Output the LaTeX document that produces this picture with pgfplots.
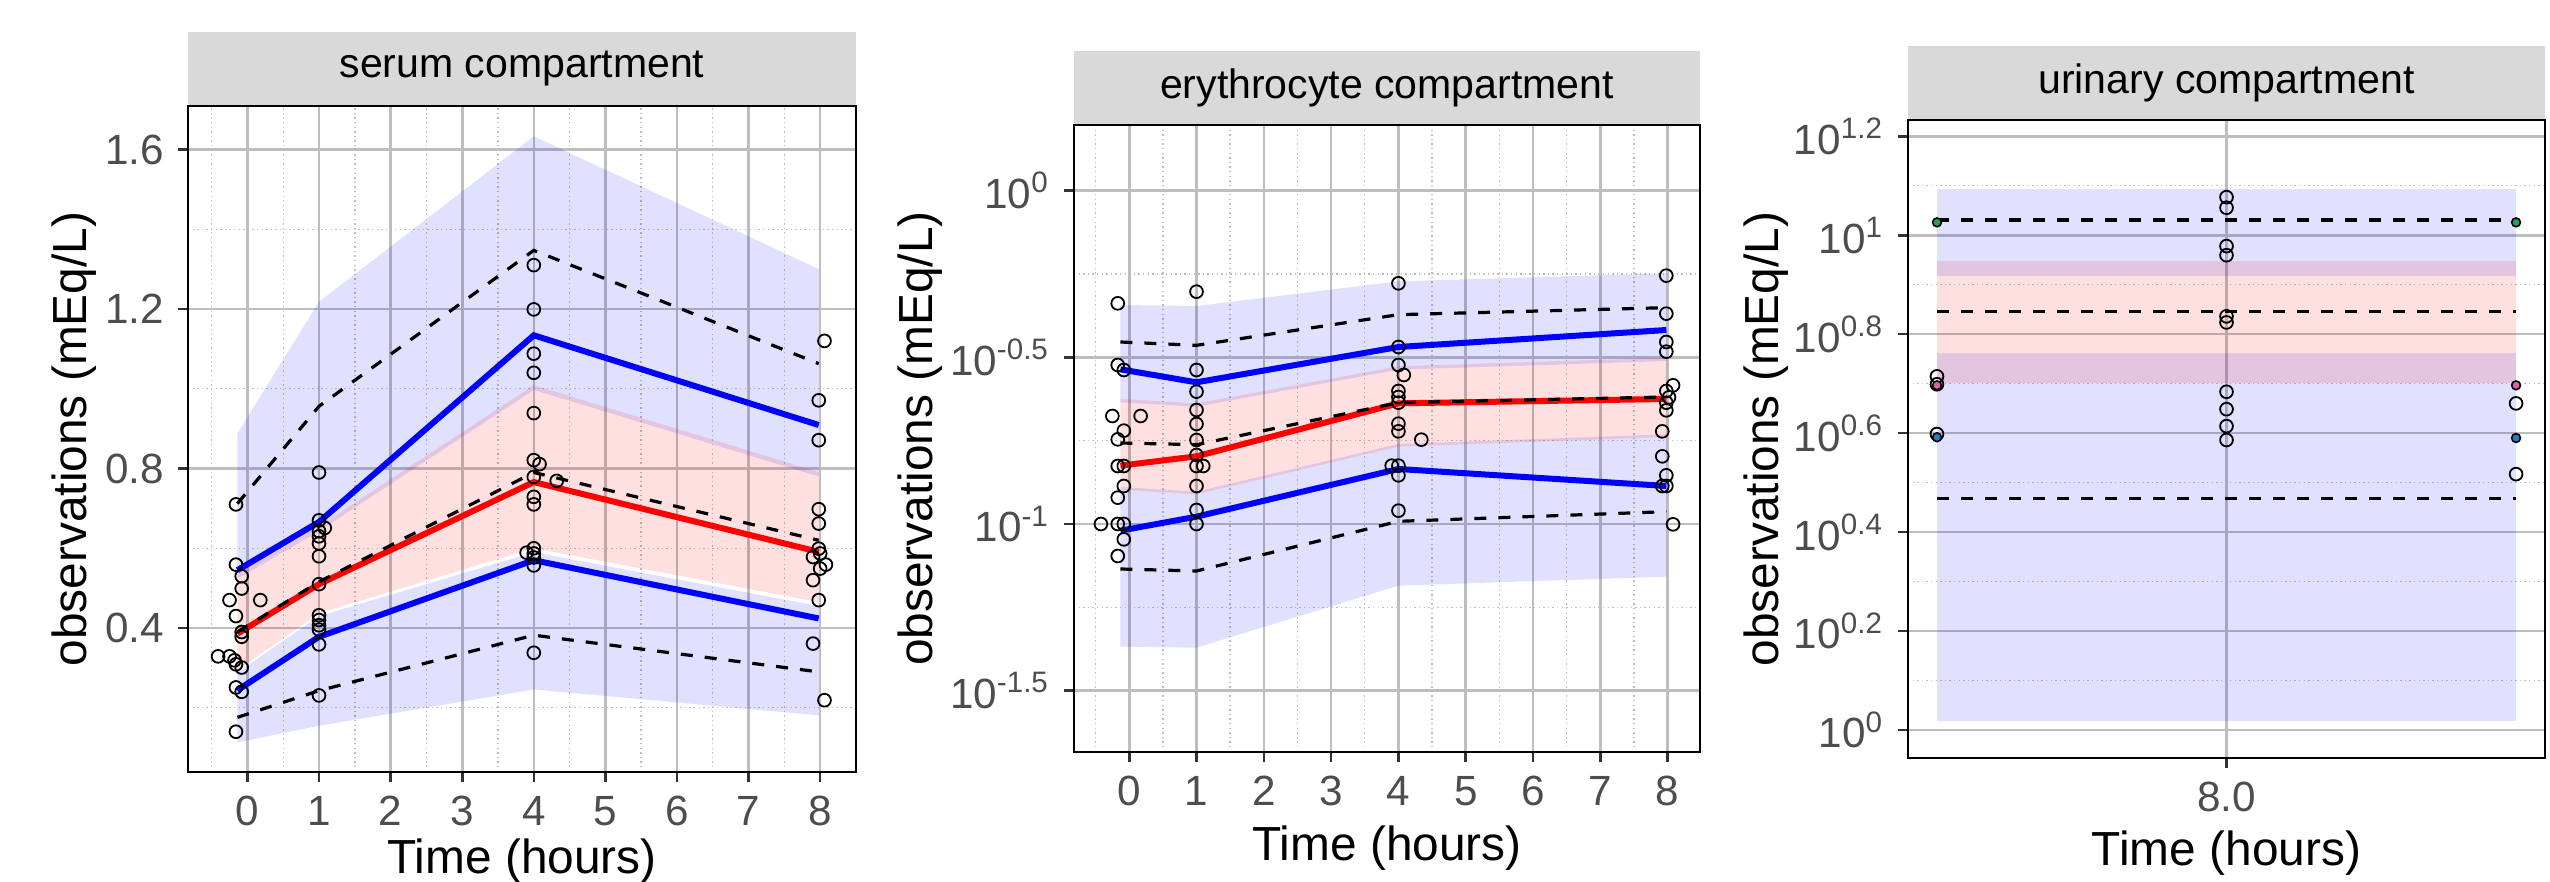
\documentclass[border=0pt]{standalone}
\usepackage{pgfplots}
\pgfplotsset{compat=1.18}
\usepackage{fontspec}
\setmainfont{Liberation Sans}
\definecolor{gridmaj}{RGB}{190,190,190}
\definecolor{stripgray}{RGB}{217,217,217}
\definecolor{ticktext}{RGB}{77,77,77}
\definecolor{tickmark}{RGB}{51,51,51}
\definecolor{ptgreen}{RGB}{35,160,95}
\definecolor{ptpink}{RGB}{225,95,175}
\definecolor{ptblue}{RGB}{40,125,190}
\pgfplotsset{
  vpc/.style={
    scale only axis,
    axis line style={line width=0.55bp, black},
    tick align=outside,
    xtick pos=bottom, ytick pos=left,
    major tick length=2.5bp,
    minor tick length=0pt,
    tick style={tickmark, line width=0.65bp},
    grid=both,
    major grid style={gridmaj, line width=0.65bp},
    minor grid style={gridmaj, line width=0.35bp, dash pattern=on 0.35bp off 0.8bp},
    tick label style={font=\fontsize{10.6}{12}\selectfont, text=ticktext},
    label style={font=\fontsize{12}{14}\selectfont, text=black},
    every axis title/.style={at={(0.5,1)}, anchor=south, fill=stripgray, inner sep=0pt, font=\fontsize{10.3}{12}\selectfont, minimum height=18.4bp},
    /pgf/number format/assume math mode=true,
    ylabel style={anchor=center},
    xlabel style={anchor=base},
  },
  ciband/.style={draw=none, fill=blue, fill opacity=0.12, forget plot},
  medband/.style={draw=none, fill=red, fill opacity=0.12, forget plot},
  bline/.style={blue, line width=1.5bp, forget plot},
  rline/.style={red, line width=1.5bp, forget plot},
  dline/.style={black, line width=0.8bp, dash pattern=on 3bp off 3bp, forget plot},
  obs/.style={only marks, mark=o, mark size=1.6bp, mark options={black, line width=0.45bp, fill=none}, forget plot},
  colpt/.style={only marks, mark=*, mark size=1.1bp, mark options={draw=none, fill=#1}, forget plot},
}
\begin{document}
\begin{tikzpicture}
\useasboundingbox (0,0) rectangle (637.5bp,220.5bp);

% ---------------- serum ----------------
\begin{axis}[vpc, at={(47bp,27.5bp)}, anchor=south west, width=167bp, height=166.5bp,
  xmin=-0.83, xmax=8.5, ymin=0.039, ymax=1.709,
  xtick={0,1,2,3,4,5,6,7,8}, minor xtick={-0.5,0.5,1.5,2.5,3.5,4.5,5.5,6.5,7.5,8.5},
  ytick={0.4,0.8,1.2,1.6}, minor ytick={0.2,0.6,1.0,1.4},
  yticklabel style={/pgf/number format/fixed, /pgf/number format/precision=1},
  title={serum compartment}, title style={minimum width=167bp},
  xlabel={Time (hours)}, ylabel={observations (mEq/L)},
  xlabel style={at={(axis description cs:0.5,-0.152)}},
  ylabel style={at={(axis description cs:-0.171,0.5)}},
]
\addplot[ciband] coordinates {(-0.14,0.888) (1,1.218) (4,1.633) (7.98,1.30) (7.98,0.78) (4,0.997) (1,0.643) (-0.14,0.523)};
\addplot[ciband] coordinates {(-0.14,0.288) (1,0.430) (4,0.590) (7.98,0.455) (7.98,0.181) (4,0.246) (1,0.155) (-0.14,0.113)};
\addplot[medband] coordinates {(-0.14,0.535) (1,0.655) (4,1.009) (7.98,0.791) (7.98,0.465) (4,0.600) (1,0.437) (-0.14,0.294)};
\addplot[bline] coordinates {(-0.14,0.545) (1,0.666) (4,1.134) (7.98,0.909)};
\addplot[rline] coordinates {(-0.14,0.386) (1,0.510) (4,0.766) (7.98,0.591)};
\addplot[bline] coordinates {(-0.14,0.244) (1,0.378) (4,0.570) (7.98,0.424)};
\addplot[dline] coordinates {(-0.14,0.712) (1,0.956) (4,1.347) (7.98,1.063)};
\addplot[dline] coordinates {(-0.14,0.390) (1,0.516) (4,0.790) (7.98,0.620)};
\addplot[dline] coordinates {(-0.14,0.176) (1,0.243) (4,0.382) (7.98,0.290)};
\addplot[obs] coordinates {
(-0.16,0.710) (-0.16,0.559) (-0.08,0.530) (-0.08,0.499) (-0.25,0.470) (0.18,0.470) (-0.16,0.430) (-0.08,0.390) (-0.08,0.378) (-0.41,0.329) (-0.25,0.329) (-0.18,0.319) (-0.16,0.309) (-0.08,0.301) (-0.16,0.251) (-0.08,0.240) (-0.16,0.140)
(1,0.790) (1,0.670) (1.08,0.651) (1,0.643) (1,0.630) (1,0.612) (1,0.580) (1,0.510) (1,0.432) (1,0.420) (1,0.407) (1,0.396) (1,0.359) (1,0.231)
(4,1.310) (4,1.199) (4,1.088) (4,1.040) (4,0.939) (4,0.821) (4.08,0.811) (4,0.779) (4.32,0.769) (4,0.729) (4,0.710) (4,0.600) (3.9,0.589) (4,0.587) (4,0.577) (4,0.557) (4,0.338)
(8.06,1.120) (7.98,0.971) (7.98,0.871) (7.98,0.698) (7.98,0.662) (7.98,0.599) (7.9,0.578) (8.0,0.587) (8.08,0.559) (8.0,0.549) (7.9,0.520) (7.98,0.470) (7.9,0.361) (8.06,0.219)
};
\end{axis}

% ---------------- erythrocyte ----------------
\begin{axis}[vpc, at={(268.5bp,32.5bp)}, anchor=south west, width=156.5bp, height=156.75bp,
  xmin=-0.82, xmax=8.48, ymin=-1.684, ymax=0.197,
  xtick={0,1,2,3,4,5,6,7,8}, minor xtick={-0.5,0.5,1.5,2.5,3.5,4.5,5.5,6.5,7.5,8.5},
  ytick={-1.5,-1,-0.5,0},
  yticklabels={10\textsuperscript{-1.5},10\textsuperscript{-1},10\textsuperscript{-0.5},10\textsuperscript{0}},
  minor ytick={-1.25,-0.75,-0.25},
  title={erythrocyte compartment}, title style={minimum width=156.5bp},
  xlabel={Time (hours)}, ylabel={observations (mEq/L)},
  xlabel style={at={(axis description cs:0.5,-0.173)}},
  ylabel style={at={(axis description cs:-0.246,0.5)}},
]
\addplot[ciband] coordinates {(-0.13,-0.343) (1,-0.346) (4,-0.272) (7.98,-0.248) (7.98,-0.511) (4,-0.537) (1,-0.648) (-0.13,-0.635)};
\addplot[ciband] coordinates {(-0.13,-0.889) (1,-0.903) (4,-0.760) (7.98,-0.731) (7.98,-1.158) (4,-1.185) (1,-1.371) (-0.13,-1.368)};
\addplot[medband] coordinates {(-0.13,-0.625) (1,-0.638) (4,-0.527) (7.98,-0.501) (7.98,-0.739) (4,-0.768) (1,-0.911) (-0.13,-0.897)};
\addplot[bline] coordinates {(-0.13,-0.536) (1,-0.575) (4,-0.469) (7.98,-0.418)};
\addplot[rline] coordinates {(-0.13,-0.825) (1,-0.797) (4,-0.638) (7.98,-0.625)};
\addplot[bline] coordinates {(-0.13,-1.020) (1,-0.978) (4,-0.835) (7.98,-0.886)};
\addplot[dline] coordinates {(-0.13,-0.454) (1,-0.464) (4,-0.372) (7.98,-0.351)};
\addplot[dline] coordinates {(-0.13,-0.757) (1,-0.762) (4,-0.636) (7.98,-0.619)};
\addplot[dline] coordinates {(-0.13,-1.135) (1,-1.141) (4,-0.992) (7.98,-0.963)};
\addplot[obs] coordinates {
(-0.17,-0.338) (-0.17,-0.523) (-0.08,-0.538) (-0.25,-0.676) (0.17,-0.676) (-0.08,-0.720) (-0.17,-0.746) (-0.17,-0.826) (-0.08,-0.826) (-0.08,-0.886) (-0.17,-0.921) (-0.42,-1.0) (-0.17,-1.0) (-0.08,-1.0) (-0.08,-1.046) (-0.17,-1.096)
(1,-0.303) (1,-0.538) (1,-0.603) (1,-0.658) (1,-0.700) (1,-0.748) (1,-0.793) (1,-0.826) (1.1,-0.826) (1,-0.886) (1,-0.958) (1,-1.0)
(4,-0.278) (4,-0.469) (4,-0.523) (4.08,-0.553) (4,-0.601) (4,-0.619) (4,-0.636) (4,-0.699) (4,-0.722) (4.34,-0.747) (3.9,-0.825) (4,-0.825) (4,-0.854) (4,-0.960)
(7.98,-0.255) (7.98,-0.369) (7.98,-0.454) (7.98,-0.483) (8.08,-0.584) (7.98,-0.601) (8.02,-0.620) (7.98,-0.636) (7.98,-0.659) (7.92,-0.722) (7.92,-0.797) (7.98,-0.854) (7.92,-0.886) (7.98,-0.886) (8.08,-1.001)
};
\end{axis}

% ---------------- urinary ----------------
\begin{axis}[vpc, at={(477bp,31bp)}, anchor=south west, width=159.25bp, height=159.5bp,
  xmin=7.45, xmax=8.55, ymin=-0.057, ymax=1.233,
  xtick={8}, xticklabels={8.0},
  ytick={0,0.2,0.4,0.6,0.8,1.0,1.2},
  yticklabels={10\textsuperscript{0},10\textsuperscript{0.2},10\textsuperscript{0.4},10\textsuperscript{0.6},10\textsuperscript{0.8},10\textsuperscript{1},10\textsuperscript{1.2}},
  minor ytick={0.1,0.3,0.5,0.7,0.9,1.1},
  title={urinary compartment}, title style={minimum width=159.25bp},
  xlabel={Time (hours)}, ylabel={observations (mEq/L)},
  xlabel style={at={(axis description cs:0.5,-0.169)}},
  ylabel style={at={(axis description cs:-0.223,0.5)}},
]
\addplot[ciband] coordinates {(7.5,1.094) (8.5,1.094) (8.5,0.917) (7.5,0.917)};
\addplot[ciband] coordinates {(7.5,0.761) (8.5,0.761) (8.5,0.018) (7.5,0.018)};
\addplot[medband] coordinates {(7.5,0.9486) (8.5,0.9486) (8.5,0.7019) (7.5,0.7019)};
\addplot[dline] coordinates {(7.5,1.031) (8.5,1.031)};
\addplot[dline] coordinates {(7.5,0.845) (8.5,0.845)};
\addplot[dline] coordinates {(7.5,0.4675) (8.5,0.4675)};
\addplot[obs] coordinates {
(7.5,0.7147) (7.5,0.6987) (7.5,0.598)
(8,1.077) (8,1.0556) (8,0.978) (8,0.9596) (8,0.836) (8,0.8237) (8,0.6835) (8,0.6483) (8,0.614) (8,0.586)
(8.5,0.66) (8.5,0.517)
};
\addplot[colpt=ptgreen] coordinates {(7.5,1.026) (8.5,1.026)};
\addplot[colpt=ptpink] coordinates {(7.5,0.6965) (8.5,0.6965)};
\addplot[colpt=ptblue] coordinates {(7.5,0.5915) (8.5,0.590)};
\end{axis}
\end{tikzpicture}
\end{document}
